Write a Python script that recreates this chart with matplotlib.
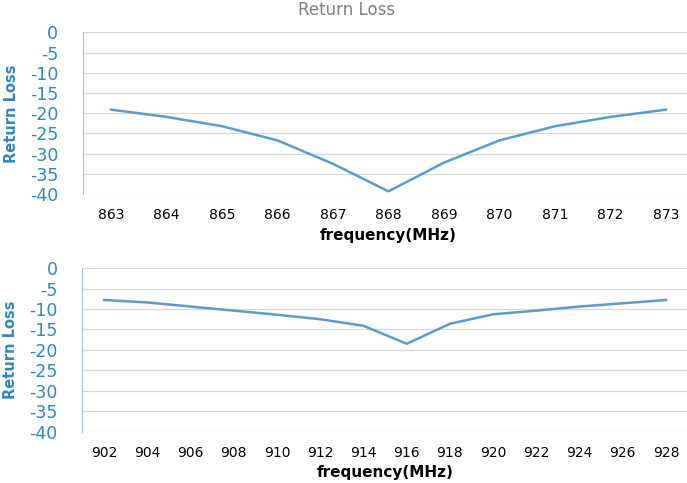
import matplotlib.pyplot as plt
import numpy as np

# datos
freq_a = [863, 864, 865, 866, 867, 868, 869, 870, 871, 872, 873]
loss_a = [-19.1, -20.9, -23.2, -26.7, -32.5, -39.3, -32.2, -26.7, -23.2, -20.9, -19.1]
freq_b = [902, 904, 906, 908, 910, 912, 914, 916, 918, 920, 922, 924, 926, 928]
loss_b = [-7.8, -8.4, -9.4, -10.4, -11.4, -12.5, -14.1, -18.5, -13.6, -11.3, -10.4, -9.4, -8.6, -7.8]
yticks = [0, -5, -10, -15, -20, -25, -30, -35, -40]

blue = '#5B9BD5'
tickblue = '#2E86C8'

fig = plt.figure(figsize=(6.87, 4.83), dpi=100)
ax1 = fig.add_axes([0.121, 0.598, 0.889, 0.335])
ax2 = fig.add_axes([0.120, 0.106, 0.881, 0.339])

def estilo(ax, freqs, vals):
    x = np.arange(len(freqs))
    ax.plot(x, vals, color=blue, lw=1.8)
    ax.set_xlim(-0.5, len(freqs) - 0.5)
    ax.set_ylim(-40, 0)
    ax.set_yticks(yticks)
    ax.set_yticklabels([str(v) for v in yticks], color=tickblue, fontsize=12.5)
    ax.set_xticks(x)
    ax.set_xticklabels([str(f) for f in freqs], fontsize=10)
    ax.tick_params(length=0)
    ax.tick_params(axis='y', pad=18)
    ax.tick_params(axis='x', pad=10)
    for s in ['top', 'right', 'bottom']:
        ax.spines[s].set_visible(False)
    ax.spines['left'].set_color('#9DC3E6')
    ax.grid(axis='y', color='#D9D9D9', lw=0.9)
    ax.set_axisbelow(True)
    ax.set_xlabel('frequency(MHz)', fontsize=11, fontweight='bold', labelpad=4)
    ax.set_ylabel('Return Loss', fontsize=10.5, fontweight='bold', color=tickblue, labelpad=8)

estilo(ax1, freq_a, loss_a)
estilo(ax2, freq_b, loss_b)

fig.text(0.505, 0.998, 'Return Loss', ha='center', va='top', fontsize=12, color='#808080')

plt.savefig('out.png', dpi=100)
